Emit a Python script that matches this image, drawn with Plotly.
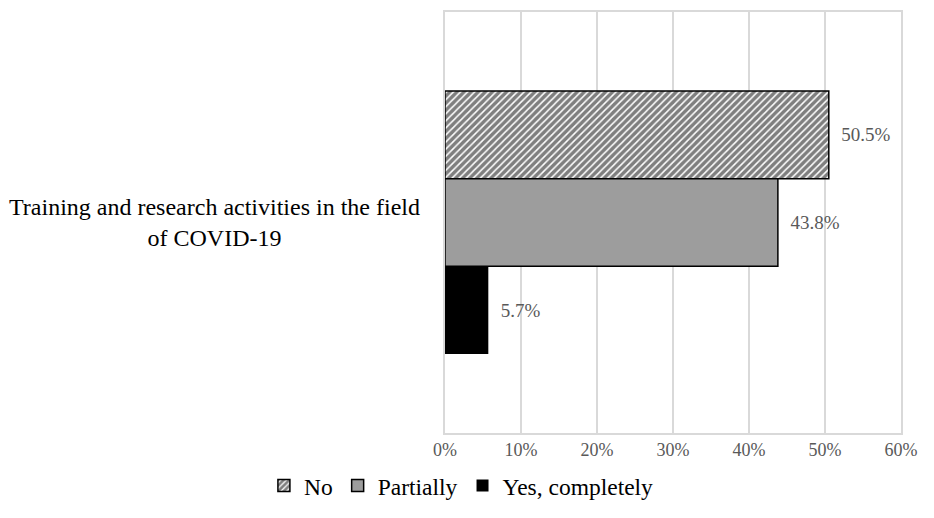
import plotly.graph_objects as go

category = "Training and research activities in the field<br>of COVID-19"
series_names = ["No", "Partially", "Yes, completely"]
series_values = [50.5, 43.8, 5.7]
tick_values = [0, 10, 20, 30, 40, 50, 60]
tick_labels = ["0%", "10%", "20%", "30%", "40%", "50%", "60%"]

FONT = "Liberation Serif, Times New Roman, serif"
GRID = "#d9d9d9"
LABEL_GREY = "#595959"
PAD = "\u00a0\u00a0"

styles = {
    "No": dict(color="white", line=dict(color="black", width=1.5),
               pattern=dict(shape="/", fgcolor="black", bgcolor="white",
                            size=5, solidity=0.7, fillmode="overlay")),
    "Partially": dict(color="#9d9d9d", line=dict(color="black", width=1.5)),
    "Yes, completely": dict(color="black", line=dict(color="black", width=0)),
}

fig = go.Figure()
for name, val in zip(series_names, series_values):
    fig.add_trace(go.Bar(
        y=["cat"], x=[val], name=name, orientation="h",
        marker=styles[name],
        text=[f"{PAD}{val:.1f}%"], textposition="outside",
        textfont=dict(family=FONT, size=19, color=LABEL_GREY),
        cliponaxis=False,
    ))

fig.add_annotation(
    text=category, xref="paper", yref="paper", x=-0.505, y=0.5,
    xanchor="center", yanchor="middle", align="center", showarrow=False,
    font=dict(family=FONT, size=24, color="black"),
)

fig.update_layout(
    width=934, height=518,
    margin=dict(l=445, r=33, t=10, b=81),
    paper_bgcolor="white", plot_bgcolor="white",
    barmode="group", bargap=0.375, bargroupgap=0,
    font=dict(family=FONT, color="black"),
    showlegend=True,
    legend=dict(orientation="h", xanchor="center", yanchor="middle",
                x=0.036, y=-0.125, xref="paper", yref="paper",
                font=dict(family=FONT, size=23.5, color="black"),
                itemwidth=30, tracegroupgap=0),
    xaxis=dict(range=[0, 60], tickvals=tick_values, ticktext=tick_labels,
               showgrid=True, gridcolor=GRID, gridwidth=1.5,
               showline=True, linecolor=GRID, linewidth=1.5, mirror=True,
               zeroline=False, ticks="",
               tickfont=dict(family=FONT, size=18, color=LABEL_GREY)),
    yaxis=dict(autorange="reversed", showticklabels=False, ticks="",
               showline=True, linecolor=GRID, linewidth=1.5, mirror=True,
               showgrid=False),
)

fig.write_html("out.html")
